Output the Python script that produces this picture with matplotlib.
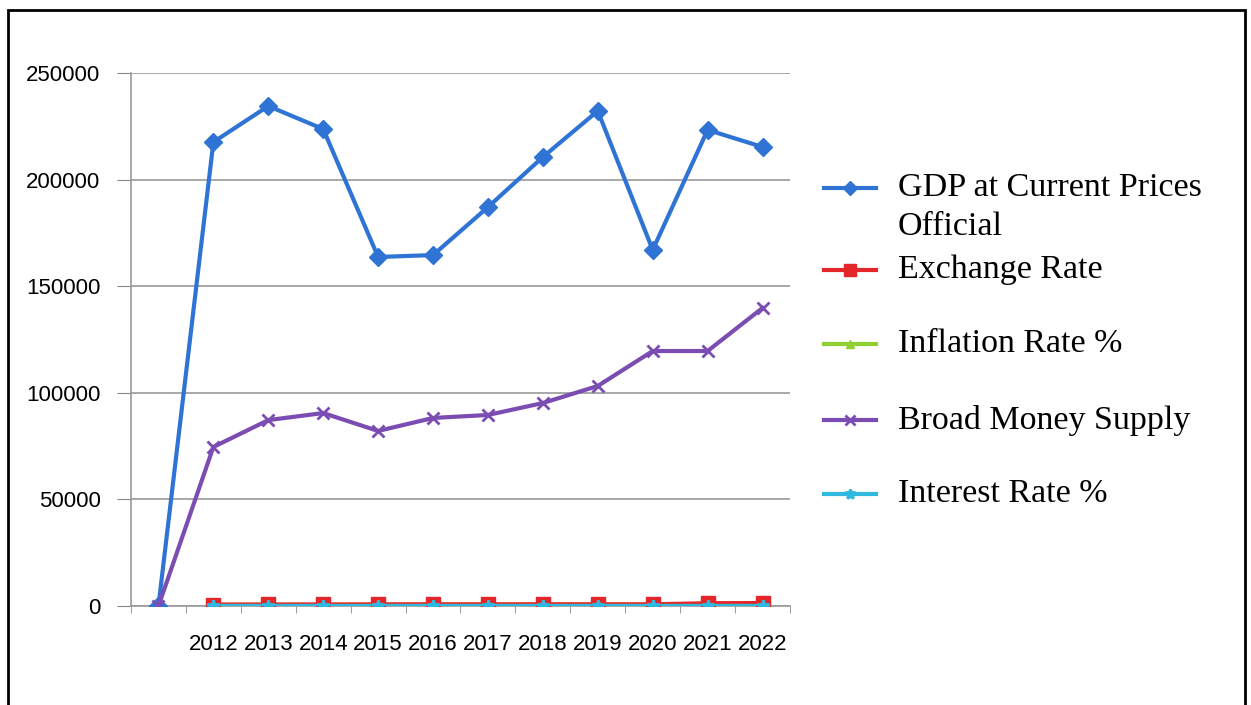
import numpy as np
import matplotlib
matplotlib.use("Agg")
import matplotlib.pyplot as plt
from matplotlib.lines import Line2D
from matplotlib.patches import Rectangle

# 첫 번째 카테고리는 라벨 없음 (원본 차트와 동일)
categories = ["", "2012", "2013", "2014", "2015", "2016", "2017", "2018", "2019", "2020", "2021", "2022"]

gdp = [0, 217600, 234500, 223700, 163700, 164600, 187100, 210600, 232200, 167000, 223300, 215300]
exchange_rate = [np.nan, 700, 720, 750, 780, 800, 800, 810, 820, 800, 1300, 1400]
inflation = [np.nan, 10, 9, 8, 7, 6, 5, 6, 7, 8, 9, 10]
broad_money = [0, 74600, 87200, 90500, 82100, 88200, 89600, 95200, 103200, 119600, 119600, 139800]
interest = [np.nan, 12, 11, 10, 9, 8, 8, 9, 9, 8, 7, 8]

series = [
    ("GDP at Current Prices\nOfficial", gdp, "#2F74D4", "D", 9),
    ("Exchange Rate", exchange_rate, "#E2262A", "s", 10),
    ("Inflation Rate %", inflation, "#8FD133", "^", 8),
    ("Broad Money Supply", broad_money, "#7B4DB3", "x", 9),
    ("Interest Rate %", interest, "#2FB8E0", "*", 9),
]

fig = plt.figure(figsize=(12.51, 7.05), dpi=100)
ax = fig.add_axes([131 / 1251, 1 - 606 / 705, (790 - 131) / 1251, (606 - 73) / 705])

x = np.arange(len(categories))
for label, vals, color, mk, ms in series:
    ax.plot(x, vals, color=color, lw=3, marker=mk, markersize=ms,
            markeredgewidth=2 if mk in ("x", "*") else 1, markeredgecolor=color, zorder=3)

ax.set_xlim(-0.5, len(categories) - 0.5)
ax.set_ylim(0, 250000)
ax.set_yticks(np.arange(0, 250001, 50000))
ax.set_xticks(x)
ax.set_xticklabels(categories)
ax.set_xticks(np.arange(-0.5, len(categories), 1), minor=True)
ax.tick_params(axis="x", which="major", length=0, pad=20)
ax.tick_params(axis="x", which="minor", length=5, color="#888888")
ax.tick_params(axis="y", length=10, color="#888888", pad=12)
for t in ax.get_xticklabels() + ax.get_yticklabels():
    t.set_fontfamily("Liberation Sans")
    t.set_fontsize(16)

ax.grid(axis="y", color="#999999", lw=1.2)
ax.set_axisbelow(True)
for s in ["top", "right"]:
    ax.spines[s].set_visible(False)
ax.spines["left"].set_color("#999999")
ax.spines["bottom"].set_color("#999999")
ax.spines["left"].set_linewidth(1.2)
ax.spines["bottom"].set_linewidth(1.2)

# 범례 (엑셀 스타일로 직접 배치, 두 줄 라벨은 줄마다 따로)
leg_y = [188, 270, 344, 420, 494]
for (label, vals, color, mk, ms), yy in zip(series, leg_y):
    fy = 1 - yy / 705
    fig.add_artist(Line2D([824 / 1251, 876 / 1251], [fy, fy], transform=fig.transFigure,
                          color=color, lw=3))
    fig.add_artist(Line2D([850 / 1251], [fy], transform=fig.transFigure, color=color,
                          marker=mk, markersize=ms * 0.8, markeredgewidth=2 if mk in ("x", "*") else 1,
                          markeredgecolor=color))
    for i, line in enumerate(label.split("\n")):
        fig.text(898 / 1251, fy - i * 39 / 705, line, fontfamily="Liberation Serif",
                 fontsize=24.5, va="center")

# 바깥 테두리
fig.add_artist(Rectangle((8 / 1251, -0.02), (1245 - 8) / 1251, 1.02 - 10 / 705,
                         transform=fig.transFigure, fill=False, ec="black", lw=2))

fig.savefig("out.png", dpi=100)
